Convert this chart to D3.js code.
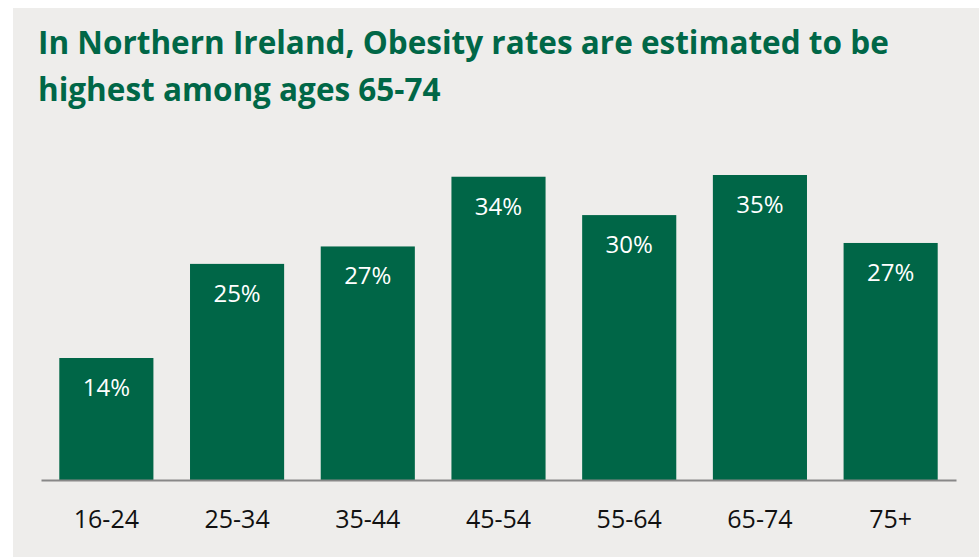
<!DOCTYPE html>
<html>
<head>
<meta charset="utf-8">
<script src="https://cdn.jsdelivr.net/npm/d3@7"></script>
<style>
  body { margin: 0; background: #fff; }
</style>
</head>
<body>
<div id="chart"></div>
<script>
// data (bar heights as drawn, labels as printed)
var ageGroups = ["16-24", "25-34", "35-44", "45-54", "55-64", "65-74", "75+"];
var obesityRates = [14.0, 24.8, 26.8, 34.8, 30.4, 35.0, 27.2];
var rateLabels = ["14%", "25%", "27%", "34%", "30%", "35%", "27%"];
var titleLines = ["In Northern Ireland, Obesity rates are estimated to be", "highest among ages 65-74"];

var width = 979, height = 558;

var svg = d3.select("#chart")
    .append("svg")
    .attr("width", width)
    .attr("height", height);

// grey panel
svg.append("rect")
    .attr("x", 13)
    .attr("y", 8)
    .attr("width", width - 13)
    .attr("height", 549)
    .attr("fill", "#eeedeb");

svg.selectAll("text.title")
    .data(titleLines)
    .enter().append("text")
    .attr("class", "title")
    .attr("x", 38)
    .attr("y", function(d, i) { return 54 + i * 47; })
    .attr("fill", "#006747")
    .style("font-family", "'Open Sans', sans-serif")
    .style("font-weight", "bold")
    .style("font-size", "31.5px")
    .text(function(d) { return d; });

var x = d3.scaleBand()
    .domain(ageGroups)
    .range([41, 956])
    .paddingInner(0.28)
    .paddingOuter(0.14);

var y = d3.scaleLinear()
    .domain([0, 35])
    .range([480, 175]);

svg.selectAll("rect.bar")
    .data(obesityRates)
    .enter().append("rect")
    .attr("class", "bar")
    .attr("x", function(d, i) { return x(ageGroups[i]); })
    .attr("y", function(d) { return y(d); })
    .attr("width", x.bandwidth())
    .attr("height", function(d) { return y(0) - y(d); })
    .attr("fill", "#006647");

svg.selectAll("text.val")
    .data(obesityRates)
    .enter().append("text")
    .attr("class", "val")
    .attr("x", function(d, i) { return x(ageGroups[i]) + x.bandwidth() / 2; })
    .attr("y", function(d) { return y(d) + 38; })
    .attr("text-anchor", "middle")
    .attr("fill", "#fff")
    .style("font-family", "'Open Sans', sans-serif")
    .style("font-size", "24px")
    .text(function(d, i) { return rateLabels[i]; });

// baseline + category labels
var xAxis = svg.append("g")
    .attr("transform", "translate(0,480)")
    .call(d3.axisBottom(x).tickSize(0).tickPadding(30));

xAxis.select(".domain")
    .attr("stroke", "#888")
    .attr("stroke-width", 2);

xAxis.selectAll("text")
    .attr("fill", "#111")
    .style("font-family", "'Open Sans', sans-serif")
    .style("font-size", "25px");
</script>
</body>
</html>
